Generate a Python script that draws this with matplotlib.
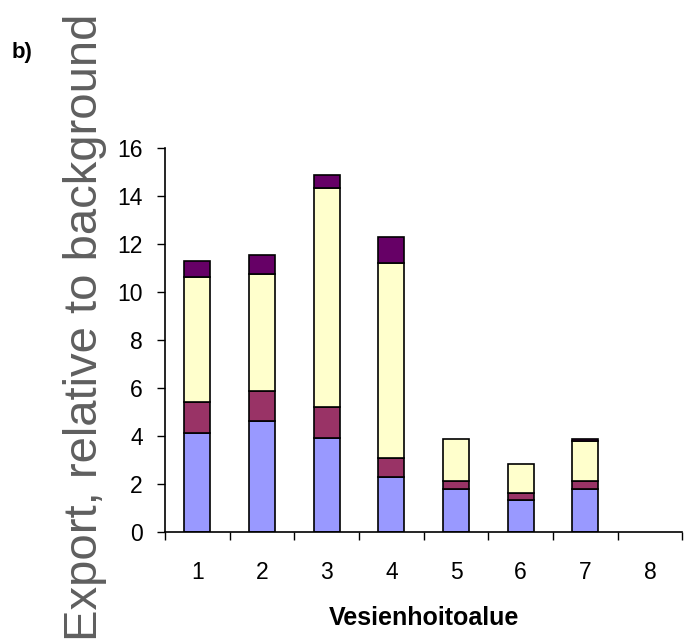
import numpy as np
import matplotlib
matplotlib.use("Agg")
from matplotlib import pyplot as plt

plt.rcParams['font.family'] = ['Liberation Sans', 'DejaVu Sans']

areas = ["1", "2", "3", "4", "5", "6", "7", "8"]
# stacked segments (cumulative tops converted to heights)
blue = [4.14, 4.61, 3.93, 2.28, 1.80, 1.33, 1.80, 0.0]
maroon = [1.26, 1.27, 1.29, 0.80, 0.34, 0.30, 0.34, 0.0]
yellow = [5.21, 4.88, 9.13, 8.13, 1.74, 1.19, 1.66, 0.0]
purple = [0.68, 0.80, 0.54, 1.07, 0.0, 0.0, 0.07, 0.0]

colors = ["#9999FF", "#993366", "#FFFFCC", "#660066"]
series = [blue, maroon, yellow, purple]

fig = plt.figure(figsize=(6.85, 6.44), dpi=100)
ax = fig.add_axes([0.241, 0.174, 0.755, 0.596])

x = np.arange(len(areas))
bottom = np.zeros(len(areas))
for vals, c in zip(series, colors):
    vals = np.array(vals)
    keep = vals > 0
    ax.bar(x[keep], vals[keep], width=0.40, bottom=bottom[keep], color=c,
           edgecolor="black", linewidth=1.2)
    bottom += vals

ax.set_xlim(-0.5, len(areas) - 0.5)
ax.set_ylim(0, 16)
ax.set_yticks(np.arange(0, 17, 2))
ax.tick_params(axis="y", labelsize=16.5, direction="out", length=6,
               width=1, pad=10)

# tick marks at category boundaries, labels at centers
ax.set_xticks(np.arange(-0.5, len(areas), 1.0))
ax.set_xticklabels([])
ax.set_xticks(x, minor=True)
ax.set_xticklabels(areas, minor=True, fontsize=16.5)
ax.tick_params(axis="x", which="major", direction="out", length=6, width=1)
ax.tick_params(axis="x", which="minor", length=0, pad=21)

for s in ["top", "right"]:
    ax.spines[s].set_visible(False)
for s in ["left", "bottom"]:
    ax.spines[s].set_linewidth(1.2)

ax.set_xlabel("Vesienhoitoalue", fontsize=18, fontweight="bold", labelpad=16)

fig.text(0.124, 0.491, "Export, relative to background", rotation=90,
         fontsize=34, color="#5f5f5f", ha="center", va="center")
fig.text(0.0175, 0.919, "b)", fontsize=16, fontweight="bold",
         ha="left", va="center")

fig.savefig("out.png", dpi=100)
